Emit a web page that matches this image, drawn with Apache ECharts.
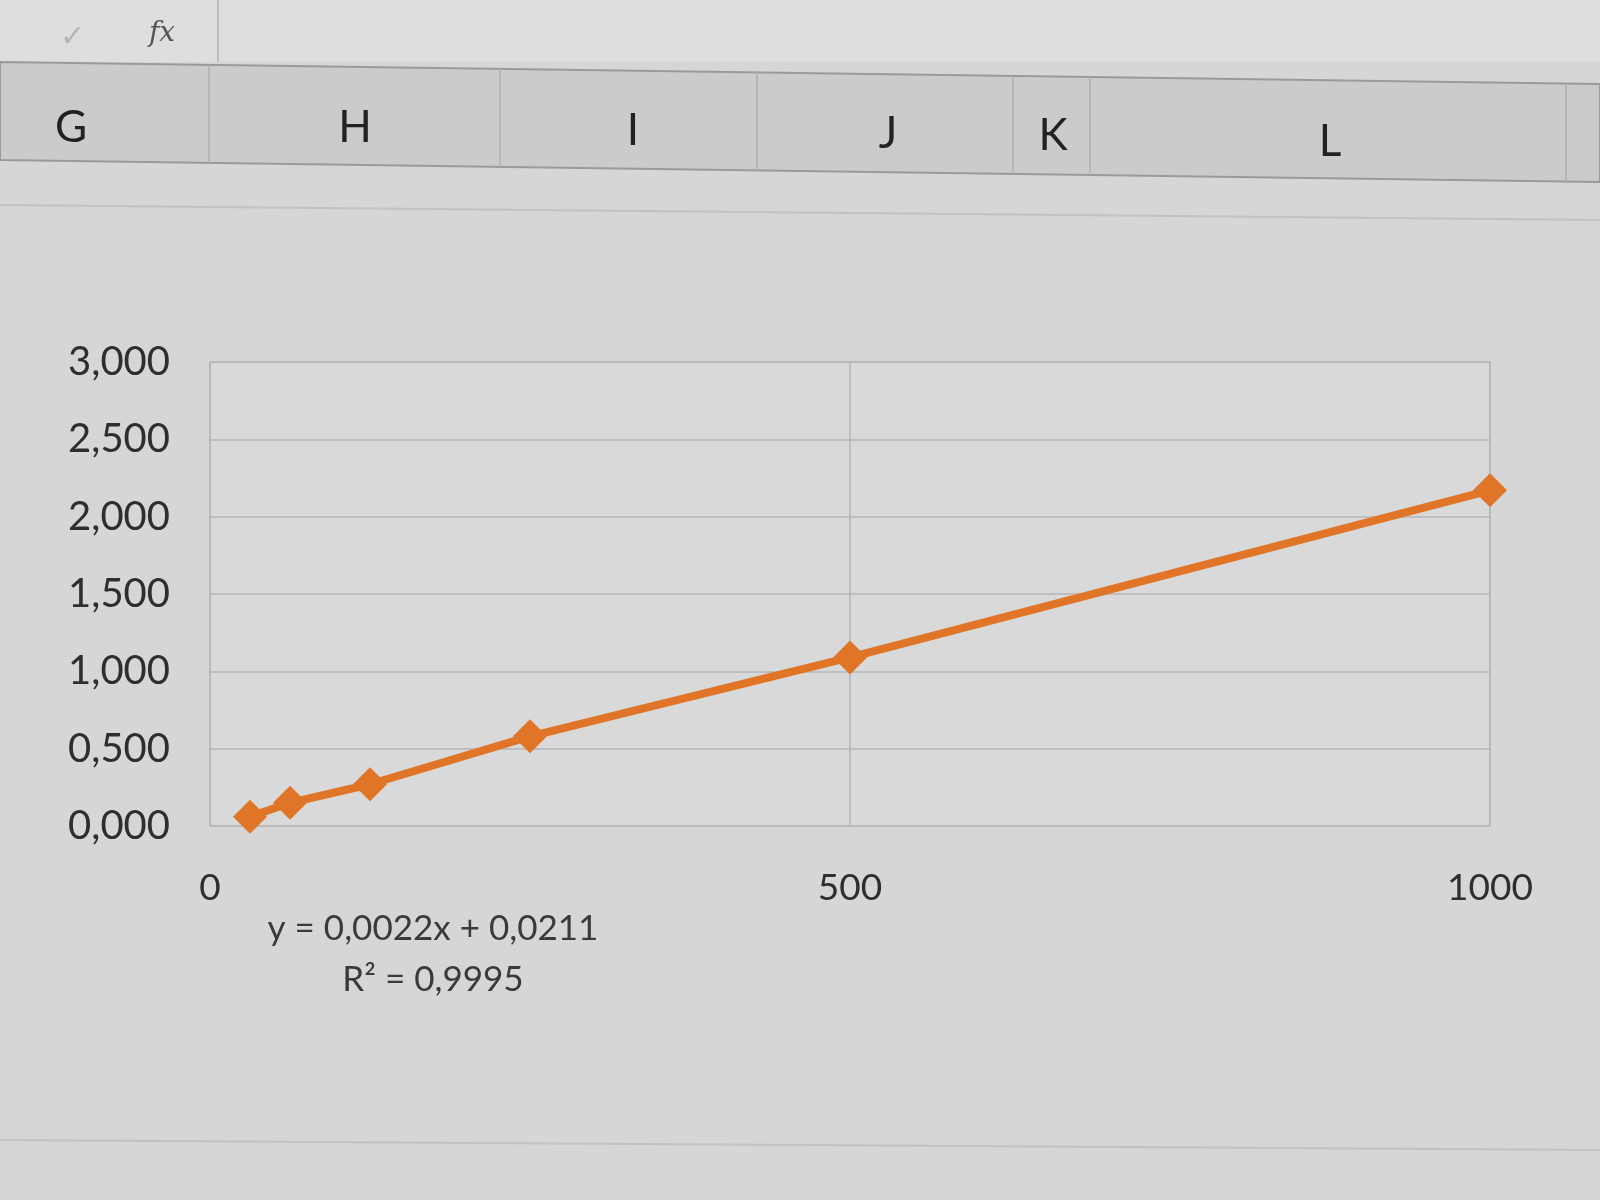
<!DOCTYPE html>
<html>
<head>
<meta charset="utf-8">
<script src="https://cdn.jsdelivr.net/npm/echarts@6/dist/echarts.min.js"></script>
<style>
html,body{margin:0;padding:0;background:#d6d6d6;}
#c{width:1600px;height:1200px;}
</style>
</head>
<body>
<div id="c"></div>
<script>
// ---- data ----
var xValues = [31.25, 62.5, 125, 250, 500, 1000];
var yValues = [0.06, 0.15, 0.27, 0.58, 1.09, 2.17];
var yTicks = ['0,000','0,500','1,000','1,500','2,000','2,500','3,000'];
var xTicks = ['0','500','1000'];
var columnLetters = ['G','H','I','J','K','L'];
var trendEquation = 'y = 0,0022x + 0,0211';
var trendR2 = 'R² = 0,9995';

var points = xValues.map(function(x, i){ return [x, yValues[i]]; });

var font = 'Lato, "Open Sans", sans-serif';
var colX = [71, 355, 633, 888, 1053, 1330];
var colY = [128, 128, 131, 134, 136, 142];
var graphics = [
  // formula bar
  {type:'rect', shape:{x:0,y:0,width:1600,height:62}, style:{fill:'#dedede'}, z:-10},
  {type:'line', shape:{x1:218,y1:0,x2:218,y2:62}, style:{stroke:'#bdbdbd',lineWidth:2}, z:-9},
  {type:'text', style:{text:'✓', x:72, y:36, fill:'#b5b5b5', font:'30px '+font, align:'center', verticalAlign:'middle'}},
  {type:'text', style:{text:'fx', x:162, y:34, fill:'#555', font:'italic 28px "DejaVu Serif", serif', align:'center', verticalAlign:'middle'}},
  // column header band
  {type:'polygon', shape:{points:[[0,62],[1600,84],[1600,182],[0,160]]}, style:{fill:'#cbcbcb', stroke:'#9a9a9a', lineWidth:2}, z:-9},
  // spreadsheet row band
  {type:'line', shape:{x1:0,y1:205,x2:1600,y2:220}, style:{stroke:'#c2c2c2',lineWidth:2}, z:-9},
  {type:'line', shape:{x1:0,y1:1140,x2:1600,y2:1150}, style:{stroke:'#c2c2c2',lineWidth:2}, z:-9}
];
var dividers = [209, 500, 757, 1013, 1090, 1566];
dividers.forEach(function(d, i){
  graphics.push({type:'line', shape:{x1:d,y1:62+d*0.0137,x2:d,y2:160+d*0.0137}, style:{stroke:'#b0b0b0',lineWidth:1.5}, z:-8});
});
columnLetters.forEach(function(l, i){
  graphics.push({type:'text', style:{text:l, x:colX[i], y:colY[i], fill:'#222', font:'44px '+font, align:'center', verticalAlign:'middle'}});
});
graphics.push({type:'text', style:{text:trendEquation, x:433, y:929, fill:'#3a3a3a', font:'35px '+font, align:'center', verticalAlign:'middle'}});
graphics.push({type:'text', style:{text:trendR2, x:433, y:980, fill:'#3a3a3a', font:'35px '+font, align:'center', verticalAlign:'middle'}});

var chart = echarts.init(document.getElementById('c'));
chart.setOption({
  backgroundColor: '#d6d6d6',
  animation: false,
  graphic: graphics,
  grid: {left: 210, right: 110, top: 362, bottom: 374, show: true, backgroundColor: '#d9d9d9', borderColor: '#b4b4b4', borderWidth: 1},
  xAxis: {
    type: 'value', min: 0, max: 1000, interval: 500,
    axisLine: {show: false}, axisTick: {show: false},
    splitLine: {show: true, lineStyle: {color: '#b4b4b4', width: 1.5}},
    axisLabel: {
      margin: 44, fontSize: 37, fontFamily: font, color: '#2e2e2e',
      formatter: function(v){ var i = Math.round(v/500); return xTicks[i]; }
    }
  },
  yAxis: {
    type: 'value', min: 0, max: 3, interval: 0.5,
    axisLine: {show: false}, axisTick: {show: false},
    splitLine: {show: true, lineStyle: {color: '#b4b4b4', width: 1.5}},
    axisLabel: {
      margin: 40, fontSize: 40, fontFamily: font, color: '#2e2e2e',
      formatter: function(v){ return yTicks[Math.round(v/0.5)]; }
    }
  },
  series: [{
    type: 'line',
    data: points,
    symbol: 'diamond',
    symbolSize: 34,
    lineStyle: {color: '#e07427', width: 8},
    itemStyle: {color: '#e07427'}
  }]
});
</script>
</body>
</html>
